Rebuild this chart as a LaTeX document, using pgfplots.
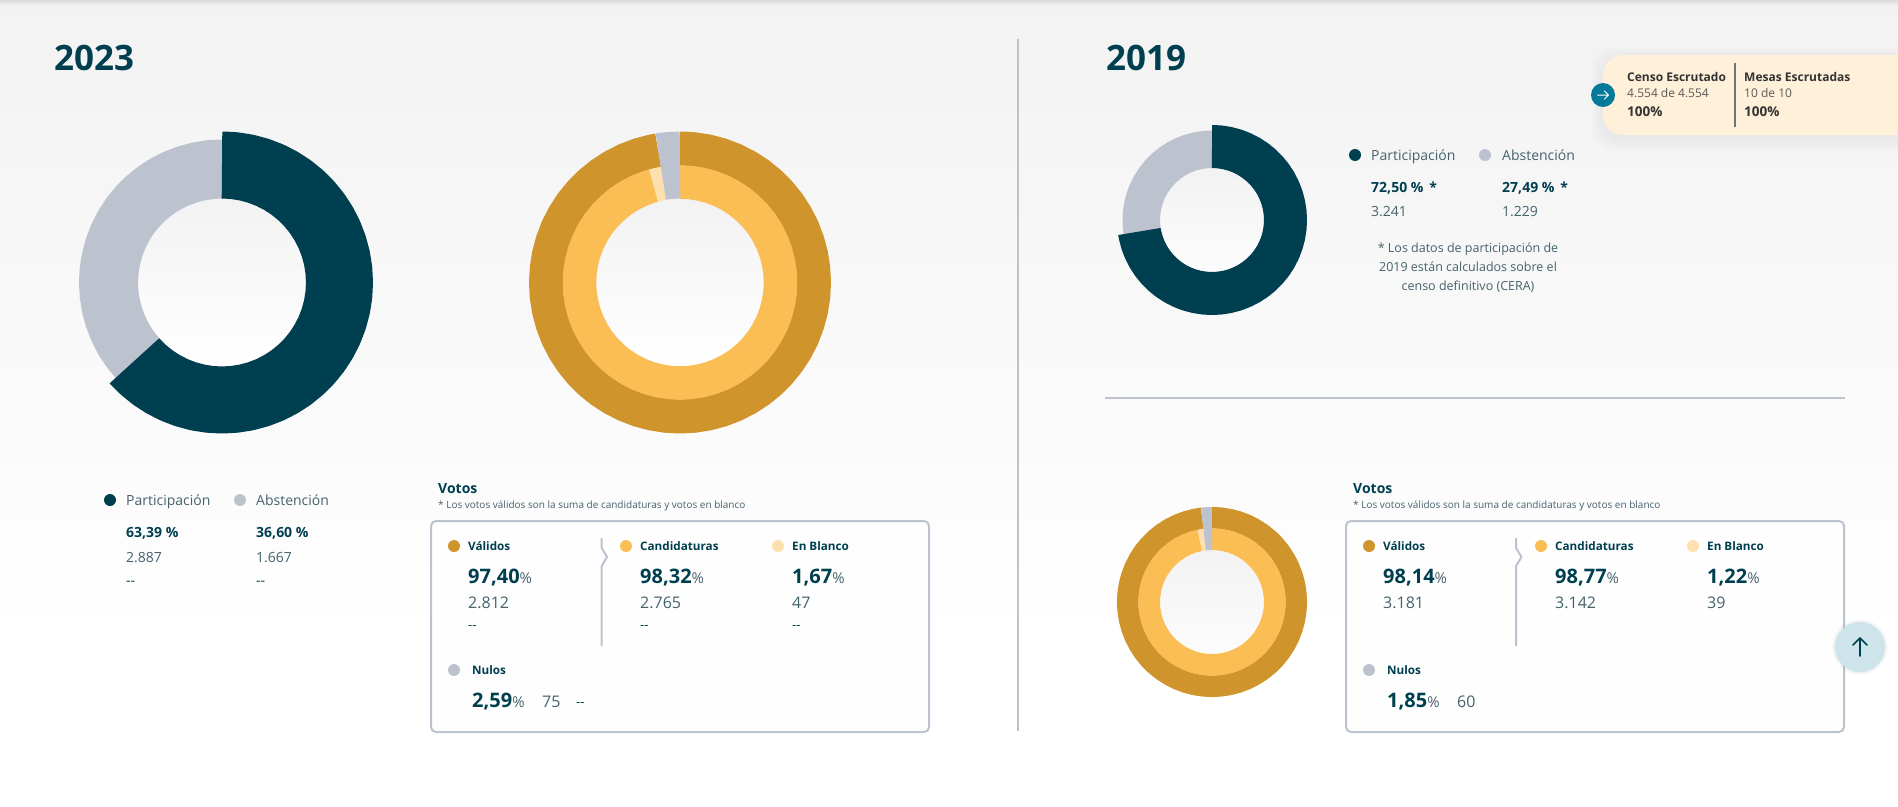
\documentclass[border=0pt]{standalone}
\usepackage{pgfplots}
\pgfplotsset{compat=1.18}
\usepackage{fontspec}
\setmainfont{Open Sans}
\definecolor{dark}{HTML}{003F4F}
\definecolor{grisa}{HTML}{BDC3CE}
\definecolor{oro}{HTML}{CF942C}
\definecolor{amar}{HTML}{FBBE55}
\definecolor{crema}{HTML}{FDE0AE}
\definecolor{medio}{HTML}{46626C}
\definecolor{tost}{HTML}{FFF0D9}
\definecolor{teal}{HTML}{047A9A}
\definecolor{boton}{HTML}{CDE4EA}
\definecolor{tinta}{HTML}{333333}
\definecolor{caja}{HTML}{FEFEFE}
\definecolor{sep}{HTML}{6B7280}
% text in pixel coordinates: x y size colour text
\newcommand\T[5]{\node[anchor=base west,inner sep=0pt,text=#4,font=\fontsize{#3}{#3}\selectfont] at (#1,#2) {#5};}
\newcommand\C[5]{\node[anchor=base,inner sep=0pt,text=#4,font=\fontsize{#3}{#3}\selectfont] at (#1,#2) {#5};}
\newcommand\dotc[3]{\fill[#3] (#1,#2) circle (6);}
\newcommand\pct[1]{{\bfseries\fontsize{20}{20}\selectfont\color{dark}#1}{\fontsize{15}{15}\selectfont\color{medio}\%}}
\newcommand\nd{-{}-}
\pgfplotsset{donut/.style={hide axis,x=1pt,y=1pt,anchor=origin,clip=false,
  xmin=-160,xmax=160,ymin=-160,ymax=160,data cs=polar,disabledatascaling,
  every axis plot/.append style={no markers,line cap=butt,line join=round}}}
\begin{document}
\begin{tikzpicture}[x=1pt,y=-1pt]
\path[use as bounding box] (0,0) rectangle (1898,806);
\fill[white] (0,0) rectangle (1898,806);
\shade[top color=black!5,bottom color=white] (0,0) rectangle (1898,640);
\shade[top color=black!14,bottom color=black!5] (0,0) rectangle (1898,5);
% donut holes
\shade[top color=black!5,bottom color=white] (222,282.5) circle (84);
\shade[top color=black!5,bottom color=white] (680,282.5) circle (84);
\shade[top color=black!5,bottom color=black!1] (1212,220) circle (52);
\shade[top color=black!5,bottom color=black!1] (1212,602) circle (52);

% 2023 participation
\begin{axis}[donut,at={(222pt,-282.5pt)}]
\addplot[grisa,line width=59pt] coordinates {(-137,113.5)(-144,113.5)(-150,113.5)(-156,113.5)(-162,113.5)(-168,113.5)(-174,113.5)(-180,113.5)(-186,113.5)(-192,113.5)(-198,113.5)(-204,113.5)(-210,113.5)(-216,113.5)(-222,113.5)(-228,113.5)(-234,113.5)(-240,113.5)(-246,113.5)(-252,113.5)(-258,113.5)(-264,113.5)(-269,113.5)(-270,113.5)};
\addplot[dark,line width=67pt] coordinates {(90,117.5)(89,117.5)(84,117.5)(78,117.5)(72,117.5)(66,117.5)(60,117.5)(54,117.5)(48,117.5)(42,117.5)(36,117.5)(30,117.5)(24,117.5)(18,117.5)(12,117.5)(6,117.5)(0,117.5)(-6,117.5)(-12,117.5)(-18,117.5)(-24,117.5)(-30,117.5)(-36,117.5)(-42,117.5)(-48,117.5)(-54,117.5)(-60,117.5)(-66,117.5)(-72,117.5)(-78,117.5)(-84,117.5)(-90,117.5)(-96,117.5)(-102,117.5)(-108,117.5)(-114,117.5)(-120,117.5)(-126,117.5)(-132,117.5)(-137.2,117.5)(-138.2,117.5)};
\end{axis}

% 2023 votes
\begin{axis}[donut,at={(680pt,-282.5pt)}]
\addplot[oro,line width=34pt] coordinates {(90,134)(89,134)(84,134)(78,134)(72,134)(66,134)(60,134)(54,134)(48,134)(42,134)(36,134)(30,134)(24,134)(18,134)(12,134)(6,134)(0,134)(-6,134)(-12,134)(-18,134)(-24,134)(-30,134)(-36,134)(-42,134)(-48,134)(-54,134)(-60,134)(-66,134)(-72,134)(-78,134)(-84,134)(-90,134)(-96,134)(-102,134)(-108,134)(-114,134)(-120,134)(-126,134)(-132,134)(-138,134)(-144,134)(-150,134)(-156,134)(-162,134)(-168,134)(-174,134)(-180,134)(-186,134)(-192,134)(-198,134)(-204,134)(-210,134)(-216,134)(-222,134)(-228,134)(-234,134)(-240,134)(-246,134)(-252,134)(-258,134)(-259.6,134)(-260.6,134)};
\addplot[amar,line width=33.5pt] coordinates {(90,100.5)(89,100.5)(84,100.5)(78,100.5)(72,100.5)(66,100.5)(60,100.5)(54,100.5)(48,100.5)(42,100.5)(36,100.5)(30,100.5)(24,100.5)(18,100.5)(12,100.5)(6,100.5)(0,100.5)(-6,100.5)(-12,100.5)(-18,100.5)(-24,100.5)(-30,100.5)(-36,100.5)(-42,100.5)(-48,100.5)(-54,100.5)(-60,100.5)(-66,100.5)(-72,100.5)(-78,100.5)(-84,100.5)(-90,100.5)(-96,100.5)(-102,100.5)(-108,100.5)(-114,100.5)(-120,100.5)(-126,100.5)(-132,100.5)(-138,100.5)(-144,100.5)(-150,100.5)(-156,100.5)(-162,100.5)(-168,100.5)(-174,100.5)(-180,100.5)(-186,100.5)(-192,100.5)(-198,100.5)(-204,100.5)(-210,100.5)(-216,100.5)(-222,100.5)(-228,100.5)(-234,100.5)(-240,100.5)(-246,100.5)(-252,100.5)(-253.8,100.5)(-254.8,100.5)};
\addplot[crema,line width=33.5pt] coordinates {(-254.8,100.5)(-255.8,100.5)(-259.6,100.5)(-260.6,100.5)};
\addplot[grisa,line width=67pt] coordinates {(-260.6,117.5)(-261.6,117.5)(-265,117.5)(-269,117.5)(-270,117.5)};
\end{axis}

% 2019 participation
\begin{axis}[donut,at={(1212pt,-220pt)}]
\addplot[grisa,line width=37.5pt] coordinates {(-170,70.75)(-174,70.75)(-180,70.75)(-186,70.75)(-192,70.75)(-198,70.75)(-204,70.75)(-210,70.75)(-216,70.75)(-222,70.75)(-228,70.75)(-234,70.75)(-240,70.75)(-246,70.75)(-252,70.75)(-258,70.75)(-264,70.75)(-269,70.75)(-270,70.75)};
\addplot[dark,line width=43pt] coordinates {(90,73.5)(89,73.5)(84,73.5)(78,73.5)(72,73.5)(66,73.5)(60,73.5)(54,73.5)(48,73.5)(42,73.5)(36,73.5)(30,73.5)(24,73.5)(18,73.5)(12,73.5)(6,73.5)(0,73.5)(-6,73.5)(-12,73.5)(-18,73.5)(-24,73.5)(-30,73.5)(-36,73.5)(-42,73.5)(-48,73.5)(-54,73.5)(-60,73.5)(-66,73.5)(-72,73.5)(-78,73.5)(-84,73.5)(-90,73.5)(-96,73.5)(-102,73.5)(-108,73.5)(-114,73.5)(-120,73.5)(-126,73.5)(-132,73.5)(-138,73.5)(-144,73.5)(-150,73.5)(-156,73.5)(-162,73.5)(-168,73.5)(-170,73.5)(-171,73.5)};
\end{axis}

% 2019 votes
\begin{axis}[donut,at={(1212pt,-602pt)}]
\addplot[oro,line width=21.5pt] coordinates {(90,84.3)(89,84.3)(84,84.3)(78,84.3)(72,84.3)(66,84.3)(60,84.3)(54,84.3)(48,84.3)(42,84.3)(36,84.3)(30,84.3)(24,84.3)(18,84.3)(12,84.3)(6,84.3)(0,84.3)(-6,84.3)(-12,84.3)(-18,84.3)(-24,84.3)(-30,84.3)(-36,84.3)(-42,84.3)(-48,84.3)(-54,84.3)(-60,84.3)(-66,84.3)(-72,84.3)(-78,84.3)(-84,84.3)(-90,84.3)(-96,84.3)(-102,84.3)(-108,84.3)(-114,84.3)(-120,84.3)(-126,84.3)(-132,84.3)(-138,84.3)(-144,84.3)(-150,84.3)(-156,84.3)(-162,84.3)(-168,84.3)(-174,84.3)(-180,84.3)(-186,84.3)(-192,84.3)(-198,84.3)(-204,84.3)(-210,84.3)(-216,84.3)(-222,84.3)(-228,84.3)(-234,84.3)(-240,84.3)(-246,84.3)(-252,84.3)(-258,84.3)(-262.3,84.3)(-263.3,84.3)};
\addplot[amar,line width=21.7pt] coordinates {(90,62.85)(89,62.85)(84,62.85)(78,62.85)(72,62.85)(66,62.85)(60,62.85)(54,62.85)(48,62.85)(42,62.85)(36,62.85)(30,62.85)(24,62.85)(18,62.85)(12,62.85)(6,62.85)(0,62.85)(-6,62.85)(-12,62.85)(-18,62.85)(-24,62.85)(-30,62.85)(-36,62.85)(-42,62.85)(-48,62.85)(-54,62.85)(-60,62.85)(-66,62.85)(-72,62.85)(-78,62.85)(-84,62.85)(-90,62.85)(-96,62.85)(-102,62.85)(-108,62.85)(-114,62.85)(-120,62.85)(-126,62.85)(-132,62.85)(-138,62.85)(-144,62.85)(-150,62.85)(-156,62.85)(-162,62.85)(-168,62.85)(-174,62.85)(-180,62.85)(-186,62.85)(-192,62.85)(-198,62.85)(-204,62.85)(-210,62.85)(-216,62.85)(-222,62.85)(-228,62.85)(-234,62.85)(-240,62.85)(-246,62.85)(-252,62.85)(-257.9,62.85)(-258.9,62.85)};
\addplot[crema,line width=21.7pt] coordinates {(-258.9,62.85)(-259.9,62.85)(-262.3,62.85)(-263.3,62.85)};
\addplot[grisa,line width=43pt] coordinates {(-263.3,73.5)(-264.3,73.5)(-267,73.5)(-269,73.5)(-270,73.5)};
\end{axis}

% titles and rules
\T{54}{70}{35}{dark}{\bfseries 2023}
\T{1106}{70}{35}{dark}{\bfseries 2019}
\draw[grisa,line width=2pt] (1018,39) -- (1018,731);
\draw[grisa,line width=2pt] (1105,398) -- (1845,398);

% legend 2023
\dotc{110}{500}{dark}\dotc{240}{500}{grisa}
\T{126}{505}{14}{medio}{Participación}
\T{256}{505}{14}{medio}{Abstención}
\T{126}{537}{14}{dark}{\bfseries 63,39 \%}
\T{256}{537}{14}{dark}{\bfseries 36,60 \%}
\T{126}{562}{14}{medio}{2.887}
\T{256}{562}{14}{medio}{1.667}
\T{126}{585}{14}{dark}{\nd}
\T{256}{585}{14}{dark}{\nd}

% votes 2023
\T{438}{493}{14}{dark}{\bfseries Votos}
\T{438}{508}{10}{medio}{* Los votos válidos son la suma de candidaturas y votos en blanco}
\draw[grisa,line width=2pt,rounded corners=5pt,fill=caja] (431,521) rectangle (929,732);
\draw[grisa,line width=2pt,line join=round] (601.7,538) -- (601.7,548) -- (607,557) -- (601.7,566) -- (601.7,646);
\dotc{454}{546}{oro}\dotc{626}{546}{amar}\dotc{778}{546}{crema}\dotc{454}{670}{grisa}
\T{468}{550}{11.7}{dark}{\bfseries Válidos}
\T{640}{550}{11.7}{dark}{\bfseries Candidaturas}
\T{792}{550}{11.7}{dark}{\bfseries En Blanco}
\T{472}{674}{11.7}{dark}{\bfseries Nulos}
\T{468}{583}{20}{dark}{\pct{97,40}}
\T{640}{583}{20}{dark}{\pct{98,32}}
\T{792}{583}{20}{dark}{\pct{1,67}}
\T{472}{707}{20}{dark}{\pct{2,59}}
\T{468}{608}{16}{medio}{2.812}
\T{640}{608}{16}{medio}{2.765}
\T{792}{608}{16}{medio}{47}
\T{542}{707}{16}{medio}{75}
\T{468}{629}{13}{dark}{\nd}
\T{640}{629}{13}{dark}{\nd}
\T{792}{629}{13}{dark}{\nd}
\T{576}{706}{13}{dark}{\nd}

% legend 2019
\dotc{1355}{155}{dark}\dotc{1485}{155}{grisa}
\T{1371}{160}{14}{medio}{Participación}
\T{1502}{160}{14}{medio}{Abstención}
\T{1371}{192}{14}{dark}{\bfseries 72,50 \% \,*}
\T{1502}{192}{14}{dark}{\bfseries 27,49 \% \,*}
\T{1371}{216}{14}{medio}{3.241}
\T{1502}{216}{14}{medio}{1.229}
\C{1468}{252}{12.5}{medio}{* Los datos de participación de}
\C{1468}{271}{12.5}{medio}{2019 están calculados sobre el}
\C{1468}{290}{12.5}{medio}{censo definitivo (CERA)}

% votes 2019
\T{1353}{493}{14}{dark}{\bfseries Votos}
\T{1353}{508}{10}{medio}{* Los votos válidos son la suma de candidaturas y votos en blanco}
\draw[grisa,line width=2pt,rounded corners=5pt,fill=caja] (1346,521) rectangle (1844,732);
\draw[grisa,line width=2pt,line join=round] (1516,538) -- (1516,548) -- (1521.5,557) -- (1516,566) -- (1516,646);
\dotc{1369}{546}{oro}\dotc{1541}{546}{amar}\dotc{1693}{546}{crema}\dotc{1369}{670}{grisa}
\T{1383}{550}{11.7}{dark}{\bfseries Válidos}
\T{1555}{550}{11.7}{dark}{\bfseries Candidaturas}
\T{1707}{550}{11.7}{dark}{\bfseries En Blanco}
\T{1387}{674}{11.7}{dark}{\bfseries Nulos}
\T{1383}{583}{20}{dark}{\pct{98,14}}
\T{1555}{583}{20}{dark}{\pct{98,77}}
\T{1707}{583}{20}{dark}{\pct{1,22}}
\T{1387}{707}{20}{dark}{\pct{1,85}}
\T{1383}{608}{16}{medio}{3.181}
\T{1555}{608}{16}{medio}{3.142}
\T{1707}{608}{16}{medio}{39}
\T{1457}{707}{16}{medio}{60}

% scrutiny card
\foreach \g in {12,9,6,3}{\fill[black,opacity=0.012,rounded corners=22pt] (1603-\g,55-\g+4) rectangle (1920,135+\g+4);}
\fill[tost,rounded corners=20pt] (1603,55) rectangle (1930,135);
\fill[teal] (1603,95) circle (12);
\draw[white,line width=1pt,line cap=round,line join=round] (1597.5,95) -- (1608.5,95) (1604.5,91) -- (1608.5,95) -- (1604.5,99);
\T{1627}{81}{12}{tinta}{\bfseries Censo Escrutado}
\T{1627}{97}{12}{black!65}{4.554 de 4.554}
\T{1627}{116}{13.5}{tinta}{\bfseries 100\%}
\draw[sep,line width=2pt] (1735,63) -- (1735,127);
\T{1744}{81}{12}{tinta}{\bfseries Mesas Escrutadas}
\T{1744}{97}{12}{black!65}{10 de 10}
\T{1744}{116}{13.5}{tinta}{\bfseries 100\%}

% back to top button
\foreach \g in {3,2,1}{\fill[black,opacity=0.02] (1860,647) circle (25+\g);}
\fill[boton] (1860,647) circle (25);
\draw[dark,line width=1.6pt,line cap=round,line join=round] (1860,656) -- (1860,638) (1853,645) -- (1860,638) -- (1867,645);
\end{tikzpicture}
\end{document}
